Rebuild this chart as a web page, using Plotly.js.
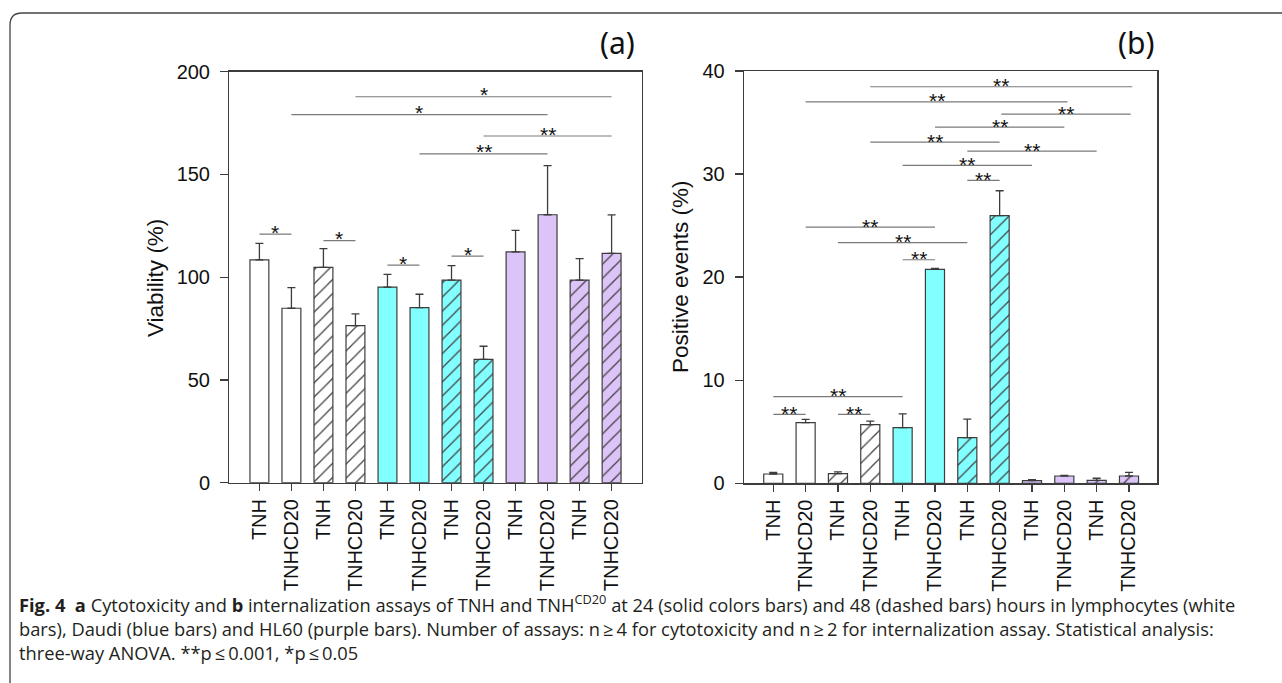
<!DOCTYPE html>
<html><head><meta charset="utf-8">
<script src="https://cdn.plot.ly/plotly-3.0.1.min.js"></script>
<style>html,body{margin:0;padding:0;background:#fff}#chart{width:1282px;height:683px}</style>
</head><body><div id="chart"></div>
<script>
// ---- data ----
const tickLabels = ['TNH','TNHCD20','TNH','TNHCD20','TNH','TNHCD20','TNH','TNHCD20','TNH','TNHCD20','TNH','TNHCD20'];
const cellType = ['lymph','lymph','lymph','lymph','daudi','daudi','daudi','daudi','hl60','hl60','hl60','hl60'];
const hours = [24,24,48,48,24,24,48,48,24,24,48,48];
const viability = [108.4, 84.9, 104.8, 76.4, 95.2, 85.2, 98.6, 60.0, 112.3, 130.4, 98.6, 111.6];
const viabilityErr = [8.1, 10.0, 9.1, 5.8, 6.2, 6.5, 7.0, 6.4, 10.5, 23.9, 10.4, 18.7];
const positive = [0.9, 5.88, 0.93, 5.69, 5.4, 20.75, 4.43, 25.96, 0.26, 0.71, 0.29, 0.71];
const positiveErr = [0.15, 0.33, 0.17, 0.35, 1.33, 0.1, 1.8, 2.42, 0.1, 0.05, 0.2, 0.35];
// significance brackets: [from bar, to bar, level, label]
const sigA = [[0,1,121.0,'*'],[2,3,117.8,'*'],[4,5,105.9,'*'],[6,7,110.3,'*'],
              [5,9,160.0,'**'],[7,11,168.7,'**'],[1,9,179.1,'*'],[3,11,187.8,'*']];
const sigB = [[0,1,6.69,'**'],[2,3,6.69,'**'],[0,4,8.4,'**'],[4,5,21.69,'**'],[2,6,23.34,'**'],
              [1,5,24.86,'**'],[6,7,29.39,'**'],[4,8,30.84,'**'],[6,10,32.23,'**'],[3,7,33.1,'**'],
              [5,9,34.56,'**'],[7.05,11.05,35.82,'**'],[1,9.1,37.01,'**'],[3,11.1,38.47,'**']];
const captionLines = [
  '<b>Fig. 4</b>  <b>a</b> Cytotoxicity and <b>b</b> internalization assays of TNH and TNH<sup>CD20</sup> at 24 (solid colors bars) and 48 (dashed bars) hours in lymphocytes (white',
  'bars), Daudi (blue bars) and HL60 (purple bars). Number of assays: n\u2009\u2265\u20094 for cytotoxicity and n\u2009\u2265\u20092 for internalization assay. Statistical analysis:',
  'three-way ANOVA. **p\u2009\u2264\u20090.001, *p\u2009\u2264\u20090.05'
];

// ---- styling ----
const W = 1282, H = 683;
const colorMap = {lymph:'#ffffff', daudi:'#82ffff', hl60:'#dcc3f8'};
const edge = '#3c3c3c';
const xs = tickLabels.map((_, i) => i);
const colors = cellType.map(c => colorMap[c]);
const shapesPat = hours.map(h => h === 48 ? '/' : '');
const px = v => v / W, py = v => 1 - v / H;

function barTrace(y, err, xa, ya) {
  return {
    type:'bar', x: xs, y: y, xaxis: xa, yaxis: ya, width: 0.59,
    marker: {color: colors, line:{color: edge, width: 1.2},
      pattern:{shape: shapesPat, fillmode:'overlay', fgcolor:'#1e1e1e', fgopacity: 1, size: 10, solidity: 0.13}},
    error_y: {type:'data', symmetric:false, array: err, arrayminus: err.map(() => 0),
      color: edge, thickness: 1.3, width: 4},
    hoverinfo:'skip', showlegend:false
  };
}

const tickFont = {family:'Liberation Sans, Arial, sans-serif', size: 20, color:'#111'};
function xAxis(dom, anchor, rng) {
  return {domain: dom, anchor: anchor, range: rng, tickmode:'array', tickvals: xs, ticktext: tickLabels,
    tickangle: -90, ticks:'outside', ticklen: 7, tickwidth: 1.3, tickcolor: edge,
    showline: true, linecolor: edge, linewidth: 1.3, mirror: true, showgrid: false, zeroline: false,
    tickfont: tickFont, fixedrange: true};
}
function yAxis(dom, anchor, rng, dt) {
  return {domain: dom, anchor: anchor, range: rng, dtick: dt, tick0: 0, ticks:'outside', ticklen: 8,
    tickwidth: 1.3, tickcolor: edge, showline: true, linecolor: edge, linewidth: 1.3, mirror: true,
    showgrid: false, zeroline: false, tickfont: tickFont, ticklabelstandoff: 6, fixedrange: true};
}

const shapes = [];
const annotations = [];
function addSig(list, xr, yr, yshift) {
  list.forEach(([a, b, lv, lab]) => {
    shapes.push({type:'line', xref: xr, yref: yr, x0: a, x1: b, y0: lv, y1: lv,
      line:{color:'#7a7a7a', width: 1.2}});
    annotations.push({xref: xr, yref: yr, x: (a + b) / 2, y: lv, text: lab, showarrow: false,
      yanchor:'middle', yshift: yshift, font:{family:'Liberation Sans, Arial, sans-serif', size: 21, color:'#111'}});
  });
}
addSig(sigA, 'x', 'y', 2);
addSig(sigB, 'x2', 'y2', 1);

// figure frame (rounded corner, open to the right/bottom)
shapes.push({type:'path', xref:'paper', yref:'paper',
  path: `M ${px(10)},0 L ${px(10)},${py(25)} Q ${px(10)},${py(13)} ${px(22)},${py(13)} L 1,${py(13)}`,
  line:{color:'#444', width: 1.3}});

const axTitleFont = {family:'Liberation Sans, Arial, sans-serif', size: 22.5, color:'#111'};
annotations.push({xref:'paper', yref:'paper', x: px(156), y: py(278), text:'Viability (%)', textangle: -90,
  showarrow:false, xanchor:'center', yanchor:'middle', font: axTitleFont});
annotations.push({xref:'paper', yref:'paper', x: px(680), y: py(277), text:'Positive events (%)', textangle: -90,
  showarrow:false, xanchor:'center', yanchor:'middle', font: axTitleFont});
const panelFont = {family:'Noto Sans, Open Sans, sans-serif', size: 30, color:'#111'};
annotations.push({xref:'paper', yref:'paper', x: px(617), y: py(43), text:'(a)', showarrow:false,
  xanchor:'center', yanchor:'middle', font: panelFont});
annotations.push({xref:'paper', yref:'paper', x: px(1136), y: py(43), text:'(b)', showarrow:false,
  xanchor:'center', yanchor:'middle', font: panelFont});

const capY = [603, 628, 652];
captionLines.forEach((t, i) => {
  annotations.push({xref:'paper', yref:'paper', x: px(17), y: py(capY[i]), text: t, showarrow:false,
    xanchor:'left', yanchor:'middle', align:'left',
    font:{family:'Open Sans, Noto Sans, sans-serif', size: 18.3, color:'#231f20'}});
});

const layout = {
  width: W, height: H, margin:{l:0, r:0, t:0, b:0}, paper_bgcolor:'#fff', plot_bgcolor:'#fff',
  xaxis: xAxis([px(229.3), px(641.7)], 'y', [-0.94, 11.94]),
  yaxis: yAxis([1 - 482.7 / H, 1 - 71.7 / H], 'x', [0, 200], 50),
  xaxis2: xAxis([px(744), px(1157.3)], 'y2', [-0.905, 11.875]),
  yaxis2: yAxis([1 - 483.3 / H, 1 - 71 / H], 'x2', [0, 40], 10),
  shapes: shapes, annotations: annotations, bargap: 0
};

Plotly.newPlot('chart', [barTrace(viability, viabilityErr, 'x', 'y'), barTrace(positive, positiveErr, 'x2', 'y2')],
  layout, {staticPlot: true, displayModeBar: false});
</script></body></html>
